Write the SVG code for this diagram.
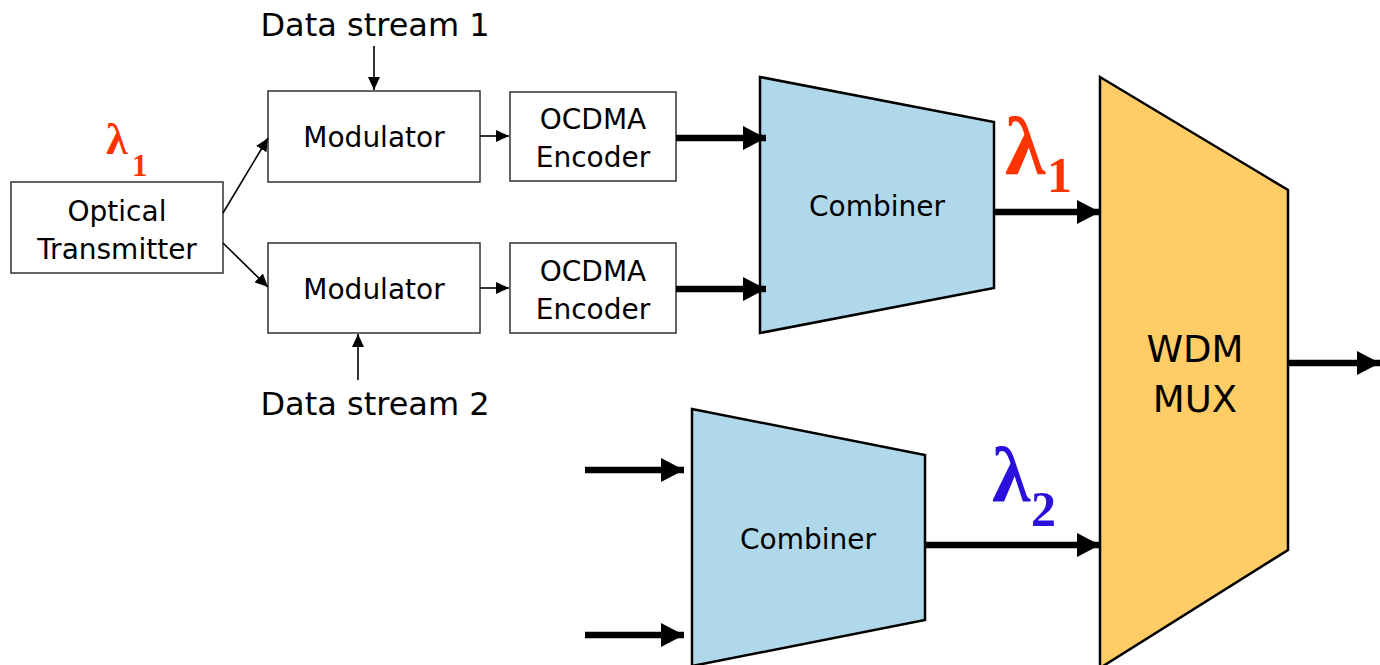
<svg xmlns="http://www.w3.org/2000/svg" width="1380" height="665" viewBox="0 0 1380 665">
<style>
.box{fill:#fff;stroke:#333;stroke-width:1.5}
.t{font-family:"DejaVu Sans",Verdana,sans-serif;font-size:28px;fill:#000;text-anchor:middle}
.ds{font-family:"DejaVu Sans",Verdana,sans-serif;font-size:32px;fill:#000;text-anchor:middle}
.comb{fill:#B0D8EB;stroke:#000;stroke-width:2.5}
.mux{fill:#FFCC66;stroke:#000;stroke-width:2.5}
.thin{stroke:#000;stroke-width:1.6;fill:none}
.thick{stroke:#000;stroke-width:6.5;fill:none}
.lam{font-family:"Liberation Serif","Times New Roman",serif;font-weight:bold}
</style>
<defs>
<marker id="ah" markerUnits="userSpaceOnUse" markerWidth="14" markerHeight="12" refX="13" refY="6" orient="auto"><path d="M0,0 L13,6 L0,12 Z" fill="#000"/></marker>
<marker id="AH" markerUnits="userSpaceOnUse" markerWidth="24" markerHeight="26" refX="23" refY="12" orient="auto"><path d="M0,0 L23,12 L0,24 Z" fill="#000"/></marker>
</defs>
<g id="optical-transmitter">
<rect class="box" x="11" y="182" width="212" height="91"/>
<text class="t" x="117" y="221">Optical</text>
<text class="t" x="117" y="259">Transmitter</text>
<text class="lam" fill="#FF3300"><tspan x="106" y="154" font-size="44">λ</tspan><tspan x="132" y="176" font-size="31">1</tspan></text>
</g>
<g id="modulator-1">
<rect class="box" x="268" y="91" width="212" height="91"/>
<text class="t" x="374" y="147">Modulator</text>
</g>
<g id="modulator-2">
<rect class="box" x="268" y="243" width="212" height="90"/>
<text class="t" x="374" y="299">Modulator</text>
</g>
<g id="data-stream-1"><text class="ds" x="375" y="36">Data stream 1</text></g>
<g id="data-stream-2"><text class="ds" x="375" y="415">Data stream 2</text></g>
<g id="encoder-1">
<rect class="box" x="510" y="92" width="166" height="89"/>
<text class="t" x="593" y="129">OCDMA</text>
<text class="t" x="593" y="167">Encoder</text>
</g>
<g id="encoder-2">
<rect class="box" x="510" y="243" width="166" height="90"/>
<text class="t" x="593" y="281">OCDMA</text>
<text class="t" x="593" y="319">Encoder</text>
</g>
<g id="combiner-1">
<polygon class="comb" points="760,77 994,122 994,288 760,333"/>
<text class="t" x="877" y="216">Combiner</text>
</g>
<g id="combiner-2">
<polygon class="comb" points="692,409 925,455 925,620 692,666"/>
<text class="t" x="808" y="549">Combiner</text>
</g>
<g id="wdm-mux">
<polygon class="mux" points="1100,77 1288,190 1288,550 1100,668"/>
<text x="1195" y="362" font-family="DejaVu Sans,Verdana,sans-serif" font-size="37" text-anchor="middle">WDM</text>
<text x="1195" y="412" font-family="DejaVu Sans,Verdana,sans-serif" font-size="37" text-anchor="middle">MUX</text>
</g>
<text class="lam" fill="#FF3300"><tspan x="1005" y="174" font-size="82">λ</tspan><tspan x="1047" y="192" font-size="50">1</tspan></text>
<text class="lam" fill="#2A0FDD"><tspan x="992" y="501" font-size="78">λ</tspan><tspan x="1031" y="526" font-size="50">2</tspan></text>
<g id="connectors">
<line class="thin" x1="374" y1="46" x2="374" y2="90" marker-end="url(#ah)"/>
<line class="thin" x1="358" y1="380" x2="358" y2="334" marker-end="url(#ah)"/>
<line class="thin" x1="223" y1="213" x2="268" y2="138" marker-end="url(#ah)"/>
<line class="thin" x1="223" y1="243" x2="268" y2="287" marker-end="url(#ah)"/>
<line class="thin" x1="480" y1="136" x2="509" y2="136" marker-end="url(#ah)"/>
<line class="thin" x1="480" y1="288" x2="509" y2="288" marker-end="url(#ah)"/>
<line class="thick" x1="676" y1="138" x2="766" y2="138" marker-end="url(#AH)"/>
<line class="thick" x1="676" y1="289" x2="766" y2="289" marker-end="url(#AH)"/>
<line class="thick" x1="994" y1="212" x2="1100" y2="212" marker-end="url(#AH)"/>
<line class="thick" x1="925" y1="545" x2="1100" y2="545" marker-end="url(#AH)"/>
<line class="thick" x1="585" y1="470" x2="684" y2="470" marker-end="url(#AH)"/>
<line class="thick" x1="585" y1="635" x2="684" y2="635" marker-end="url(#AH)"/>
<line class="thick" x1="1288" y1="363" x2="1380" y2="363" marker-end="url(#AH)"/>
</g>
</svg>
